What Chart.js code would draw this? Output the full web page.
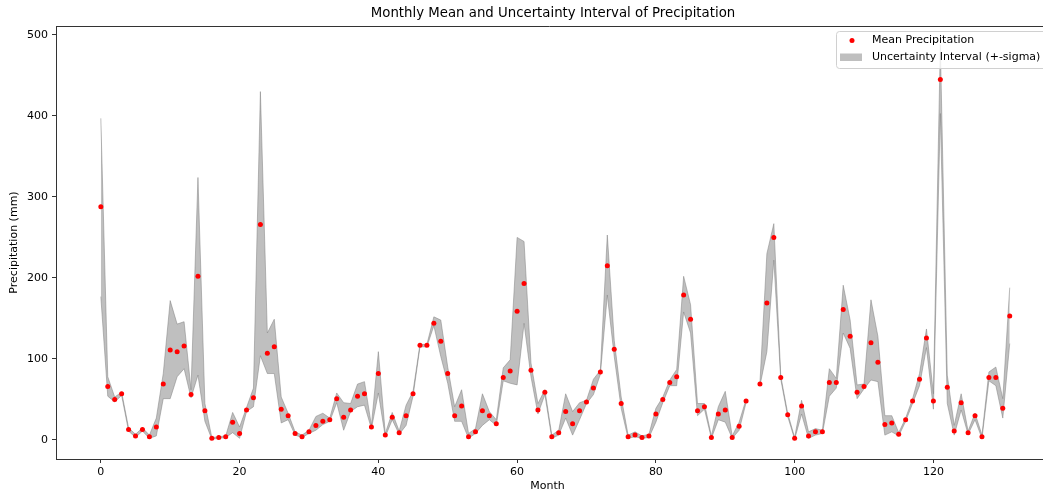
<!DOCTYPE html>
<html>
<head>
<meta charset="utf-8">
<script src="https://cdn.jsdelivr.net/npm/chart.js@4/dist/chart.umd.min.js"></script>
<style>
  html, body { margin: 0; padding: 0; background: #fff; }
  #wrap { width: 1043px; height: 493px; position: relative; }
</style>
</head>
<body>
<div id="wrap"><canvas id="myChart" width="1043" height="493"></canvas></div>
<script>
// monthly mean precipitation (mm), month index 0..131, null = missing
const meanVals = [288, 66, 50, 57, 13, 5, 13, 4, 16, 69,
  111, 109, 116, 56, 202, 36, 2, 3, 4, 22,
  8, 37, 52, 266, 107, 115, 38, 30, 8, 4,
  10, 18, 23, 25, 51, 28, 37, 54, 57, 16,
  82, 6, 28, 9, 30, 57, 117, 117, 144, 122,
  82, 30, 42, 4, 10, 36, 30, 20, 77, 85,
  159, 193, 86, 37, 59, 4, 9, 35, 20, 36,
  47, 64, 84, 215, 112, 45, 4, 6, 3, 5,
  32, 50, 71, 78, 179, 149, 36, 41, 3, 32,
  37, 3, 17, 48, null, 69, 169, 250, 77, 31,
  2, 42, 5, 10, 10, 71, 71, 161, 128, 59,
  66, 120, 96, 19, 21, 7, 25, 48, 75, 126,
  48, 445, 65, 11, 46, 9, 30, 4, 77, 77,
  39, 153]
// mean - sigma
const lowerVals = [177, 54, 47, 55, 11, 3, 11, 2, 5, 51,
  51, 78, 88, 52, 80, 23, 1, 2, 3, 9,
  2, 35, 41, 104, 82, 82, 21, 25, 6, 3,
  8, 12, 19, 23, 46, 12, 35, 41, 43, 14,
  58, 4, 25, 7, 18, 54, 115, 115, 141, 103,
  70, 23, 23, 2, 8, 18, 25, 18, 73, 70,
  68, 144, 78, 32, 56, 2, 6, 27, 6, 25,
  45, 56, 81, 179, 103, 39, 2, 4, 2, 3,
  22, 46, 67, 67, 158, 132, 30, 38, 2, 25,
  22, 2, 12, 46, null, 67, 109, 222, 75, 29,
  1, 32, 2, 6, 8, 54, 64, 132, 113, 51,
  63, 74, 72, 6, 10, 5, 23, 45, 67, 114,
  38, 403, 45, 6, 37, 7, 25, 2, 73, 67,
  27, 119]
// mean + sigma
const upperVals = [397, 78, 53, 59, 15, 7, 15, 6, 27, 82,
  172, 143, 146, 62, 324, 45, 3, 4, 5, 34,
  16, 40, 64, 430, 132, 149, 53, 33, 10, 6,
  12, 29, 33, 27, 58, 46, 45, 69, 72, 18,
  109, 8, 34, 11, 43, 60, 118, 118, 152, 148,
  90, 41, 62, 8, 14, 57, 35, 25, 89, 99,
  250, 245, 95, 45, 62, 6, 12, 57, 35, 46,
  49, 75, 86, 253, 123, 53, 6, 10, 5, 7,
  39, 53, 74, 87, 202, 167, 45, 45, 5, 41,
  60, 5, 22, 50, null, 71, 230, 267, 79, 33,
  3, 49, 10, 14, 12, 88, 76, 191, 148, 68,
  69, 173, 128, 30, 30, 9, 27, 51, 82, 137,
  57, 488, 80, 18, 57, 11, 33, 6, 84, 90,
  51, 188]

const months = meanVals.map((v, i) => i)
const xTicks = [0, 20, 40, 60, 80, 100, 120]
const yTicks = [0, 100, 200, 300, 400, 500]
const titleText = 'Monthly Mean and Uncertainty Interval of Precipitation'

const pts = arr => months.map(m => ({ x: m, y: arr[m] }))

const FONT = 'DejaVu Sans'
Chart.defaults.font.family = FONT
Chart.defaults.color = '#000'

// title, frame lines running off the right edge, matplotlib style legend box
const frameAndLegend = {
  id: 'frameAndLegend',
  afterDraw(chart) {
    const { ctx, chartArea: a } = chart
    ctx.save()
    ctx.strokeStyle = '#333'
    ctx.lineWidth = 1
    ctx.beginPath()
    ctx.moveTo(a.left, a.top + 0.5)
    ctx.lineTo(chart.width, a.top + 0.5)
    ctx.moveTo(a.right - 1, a.bottom + 0.5)
    ctx.lineTo(chart.width, a.bottom + 0.5)
    ctx.stroke()

    // title is centred on the full (cropped) axes, not the canvas
    ctx.fillStyle = '#000'
    ctx.font = '13.3px "' + FONT + '"'
    ctx.textAlign = 'center'
    ctx.textBaseline = 'middle'
    ctx.fillText(titleText, 553, 14)

    // legend
    const bx = 836.5, by = 31.5, bw = 215, bh = 37
    ctx.fillStyle = 'rgba(255,255,255,0.8)'
    ctx.strokeStyle = '#d0d0d0'
    ctx.beginPath()
    ctx.roundRect(bx, by, bw, bh, 3)
    ctx.fill()
    ctx.stroke()

    ctx.fillStyle = '#ff0000'
    ctx.beginPath()
    ctx.arc(852, 40.5, 2.5, 0, Math.PI * 2)
    ctx.fill()

    ctx.fillStyle = 'rgba(128,128,128,0.5)'
    ctx.fillRect(840, 53.5, 22, 7.5)

    ctx.fillStyle = '#000'
    ctx.font = '11px "' + FONT + '"'
    ctx.textBaseline = 'middle'
    ctx.textAlign = 'left'
    ctx.fillText(chart.data.datasets[0].label, 872, 40.5)
    ctx.fillText(chart.data.datasets[2].label, 872, 57.5)
    ctx.restore()
  }
}

new Chart(document.getElementById('myChart'), {
  type: 'line',
  data: {
    datasets: [{
      label: 'Mean Precipitation',
      data: pts(meanVals),
      showLine: false,
      pointRadius: 2.5,
      pointBorderWidth: 0,
      pointBackgroundColor: '#ff0000',
      borderColor: '#ff0000',
      order: 0
    }, {
      label: 'lower',
      data: pts(lowerVals),
      borderColor: 'rgba(128,128,128,0.5)',
      borderWidth: 1,
      pointRadius: 0,
      tension: 0,
      fill: false,
      spanGaps: false,
      order: 2
    }, {
      label: 'Uncertainty Interval (+-sigma)',
      data: pts(upperVals),
      borderColor: 'rgba(128,128,128,0.5)',
      backgroundColor: 'rgba(128,128,128,0.5)',
      borderWidth: 1,
      pointRadius: 0,
      tension: 0,
      fill: '-1',
      spanGaps: false,
      order: 1
    }]
  },
  options: {
    responsive: false,
    animation: false,
    layout: { padding: { top: 26, right: 0, left: 0, bottom: 0 } },
    plugins: {
      legend: { display: false },
      tooltip: { enabled: false },
      title: { display: false }
    },
    scales: {
      x: {
        type: 'linear',
        min: -6.46,
        max: 135.22,
        afterBuildTicks: s => { s.ticks = xTicks.map(v => ({ value: v })) },
        afterFit: s => { s.height = 34 },
        ticks: { font: { size: 11 }, padding: 3, maxRotation: 0 },
        grid: { drawOnChartArea: false, drawTicks: true, tickLength: 4, color: '#333' },
        border: { display: true, color: '#333' },
        title: { display: true, text: 'Month', font: { size: 11 }, padding: { top: 0, bottom: 0 } }
      },
      y: {
        min: -23.5,
        max: 511,
        afterBuildTicks: s => { s.ticks = yTicks.map(v => ({ value: v })) },
        afterFit: s => { s.width = 56 },
        ticks: { font: { size: 11 }, padding: 4 },
        grid: { drawOnChartArea: false, drawTicks: true, tickLength: 4, color: '#333' },
        border: { display: true, color: '#333' },
        title: { display: true, text: 'Precipitation (mm)', font: { size: 11 }, padding: { top: 8, bottom: 0 } }
      }
    }
  },
  plugins: [frameAndLegend]
})
</script>
</body>
</html>
